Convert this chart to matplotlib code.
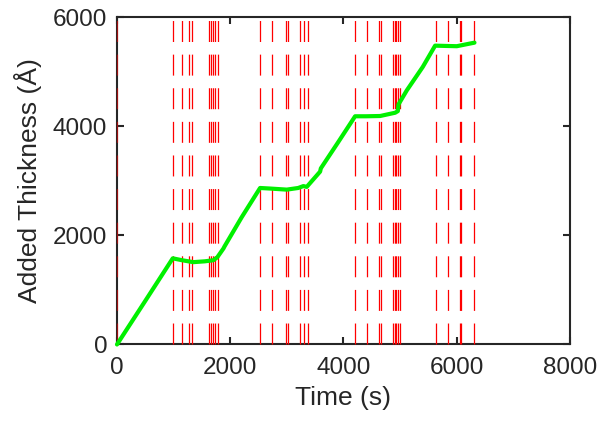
import matplotlib
matplotlib.use("Agg")
import matplotlib.pyplot as plt

plt.rcParams['font.family'] = ['Liberation Sans', 'DejaVu Sans']
plt.rcParams['lines.scale_dashes'] = False

# Event times (s) marked by dashed red vertical lines
event_times = [0, 995, 1148, 1277, 1325, 1620, 1655, 1691, 1726, 1779,
               2532, 2744, 2981, 3027, 3239, 3304, 3375,
               4205, 4412, 4624, 4670, 4876, 4906, 4934, 4965, 5005,
               5636, 5848, 6055, 6078, 6307]

# Added thickness trace
time_s = [0, 500, 985, 1150, 1348, 1550, 1702, 1772, 1880, 1900, 2200, 2527,
          2700, 2998, 3200, 3292, 3351, 3587, 3600, 3900, 4205,
          4400, 4647, 4912, 4960, 4970, 5118, 5400, 5618, 5800, 6001, 6313]
thickness = [0, 800, 1580, 1545, 1510, 1525, 1545, 1600, 1760, 1800, 2330, 2870,
             2860, 2840, 2870, 2905, 2890, 3170, 3230, 3700, 4185,
             4185, 4190, 4250, 4280, 4400, 4660, 5090, 5480, 5475, 5470, 5535]

fig = plt.figure(figsize=(6.08, 4.23), dpi=100)
ax = fig.add_axes([0.1924, 0.1856, 0.7451, 0.7735])

dark = '#262626'
for t in event_times:
    ax.plot([t, t], [0, 6000], color='red', lw=0.9, dashes=(15.1, 9.1),
            zorder=2, clip_on=False, alpha=0.55 if t == 0 else 1.0)

ax.plot(time_s, thickness, color='#00f000', lw=3.0, zorder=3, clip_on=False,
        solid_capstyle='round', solid_joinstyle='round')

ax.set_xlim(0, 8000)
ax.set_ylim(0, 6000)
ax.set_xticks([0, 2000, 4000, 6000, 8000])
ax.set_yticks([0, 2000, 4000, 6000])

for s in ax.spines.values():
    s.set_color(dark)
    s.set_linewidth(1.5)
    s.set_zorder(1)
ax.tick_params(direction='in', length=5, width=1.5, color=dark, labelcolor=dark,
               labelsize=17.5, top=True, right=True)
ax.tick_params(axis='x', pad=9)
ax.tick_params(axis='y', pad=7)
ax.set_xlabel('Time (s)', fontsize=19, color=dark, labelpad=5)
ax.set_ylabel('Added Thickness (Å)', fontsize=19, color=dark, labelpad=8)

fig.savefig('out.png', dpi=100)
